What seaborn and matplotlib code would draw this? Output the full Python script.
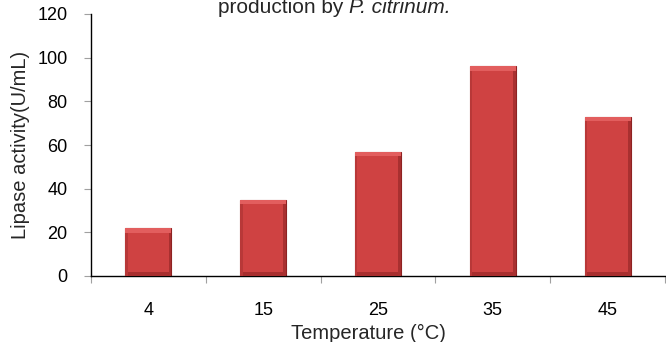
import matplotlib
matplotlib.use("Agg")
import matplotlib.pyplot as plt
import seaborn as sns
import pandas as pd

# data
temperatures = ["4", "15", "25", "35", "45"]
lipase_activity = [22, 35, 57, 96, 73]
y_ticks = [0, 20, 40, 60, 80, 100, 120]

sns.set_theme(style="white")
plt.rcParams["font.family"] = ["Liberation Sans", "DejaVu Sans"]

df = pd.DataFrame({"temp": temperatures, "activity": lipase_activity})

fig = plt.figure(figsize=(6.66, 3.42), dpi=100)
ax = fig.add_axes([91 / 666, 1 - 276 / 342, 574 / 666, 262 / 342])

sns.barplot(data=df, x="temp", y="activity", color="#cf4242", width=0.4,
            edgecolor="#8e2222", linewidth=0.8, saturation=1, ax=ax)

# bevel-like shading on each bar
for p in ax.patches:
    x0, w, h = p.get_x(), p.get_width(), p.get_height()
    ax.add_patch(plt.Rectangle((x0, h - 2.2), w, 2.2, color="#e25e5e", lw=0, zorder=3))
    ax.add_patch(plt.Rectangle((x0, 0), w, 2.0, color="#a82e2e", lw=0, zorder=3))
    ax.add_patch(plt.Rectangle((x0, 0), w * 0.05, h - 2.2, color="#b83838", lw=0, zorder=3))
    ax.add_patch(plt.Rectangle((x0 + w * 0.94, 0), w * 0.06, h - 2.2, color="#a83030", lw=0, zorder=3))

ax.set_ylim(0, 120)
ax.set_yticks(y_ticks)
ax.set_xlim(-0.5, len(temperatures) - 0.5)
ax.set_xlabel("")
ax.set_ylabel("")

# ticks: y at values, x at category boundaries
ax.set_xticks([i - 0.5 for i in range(len(temperatures) + 1)], minor=True)
ax.tick_params(axis="x", which="major", length=0, labelsize=13, pad=19, colors="black")
ax.tick_params(axis="x", which="minor", length=5, width=0.8, color="#a0a0a0", direction="out")
ax.tick_params(axis="y", length=5, width=0.8, color="#a0a0a0", direction="out", labelsize=13, pad=12)
ax.tick_params(left=True, bottom=True, which="both")
for t in ax.get_xticklabels() + ax.get_yticklabels():
    t.set_color("black")

for side in ["top", "right"]:
    ax.spines[side].set_visible(False)
for side in ["left", "bottom"]:
    ax.spines[side].set_color("black")
    ax.spines[side].set_linewidth(1.0)

fig.text(0.031, 1 - 145 / 342, "Lipase activity(U/mL)", rotation=90,
         ha="center", va="center", fontsize=14.5)
fig.text(368 / 666, 1 - 333 / 342, "Temperature (°C)", ha="center", va="center", fontsize=14.5)

# title line, top part cut off like in the reference
t1 = fig.text(218 / 666, 1 - 13 / 342, "production by ", ha="left", va="baseline", fontsize=15)
ax.annotate("P. citrinum.", xy=(1, 0), xycoords=t1, va="bottom", ha="left",
            fontsize=15, style="italic", annotation_clip=False)

fig.savefig("out.png", dpi=100)
